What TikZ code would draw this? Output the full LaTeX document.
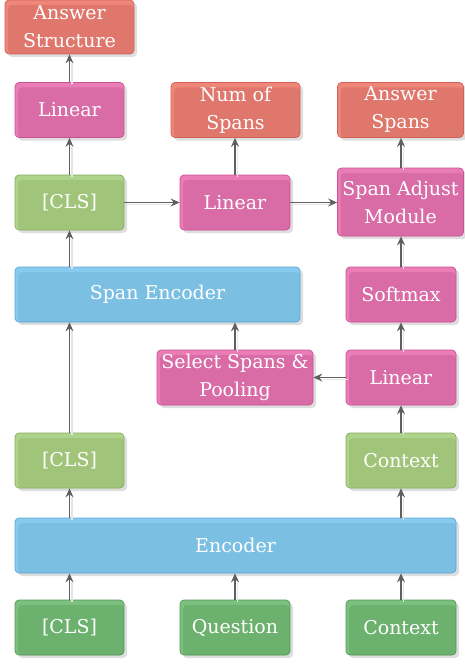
\documentclass[tikz,border=0pt]{standalone}
\usepackage{fontspec}
\setmainfont{DejaVu Serif}
\usetikzlibrary{shadows,arrows.meta}
\definecolor{pinkM}{RGB}{217,108,166}
\definecolor{pinkL}{RGB}{234,124,182}
\definecolor{pinkB}{RGB}{200,82,146}
\definecolor{salM}{RGB}{223,119,108}
\definecolor{salL}{RGB}{238,134,122}
\definecolor{salB}{RGB}{208,96,88}
\definecolor{lgM}{RGB}{160,197,122}
\definecolor{lgL}{RGB}{174,211,138}
\definecolor{lgB}{RGB}{134,172,96}
\definecolor{dgM}{RGB}{108,177,110}
\definecolor{dgL}{RGB}{124,192,126}
\definecolor{dgB}{RGB}{84,150,88}
\definecolor{blM}{RGB}{123,191,226}
\definecolor{blL}{RGB}{136,203,240}
\definecolor{blB}{RGB}{94,166,208}
\definecolor{arrC}{RGB}{95,95,95}
\newcommand{\myfnt}{\fontsize{19}{28}\selectfont}
\newcommand{\myarrow}[1]{\draw[arrshadow] #1; \draw[arr] #1;}
\tikzset{
  base/.style={rounded corners=4pt, line width=0.7pt, text=white, font=\myfnt,
    align=center, inner sep=0pt, minimum height=55pt,
    drop shadow={shadow xshift=3pt, shadow yshift=-3pt, fill=black!13, opacity=1}},
  colbox/.style n args={3}{base, draw=#3, fill=#2,
    path picture={\fill[#1, rounded corners=4pt]
      ([xshift=3pt,yshift=-5pt]path picture bounding box.north west) rectangle
      (path picture bounding box.south east);}},
  pinkbox/.style={colbox={pinkM}{pinkL}{pinkB}},
  salbox/.style={colbox={salM}{salL}{salB}},
  lgbox/.style={colbox={lgM}{lgL}{lgB}},
  dgbox/.style={colbox={dgM}{dgL}{dgB}},
  blbox/.style={colbox={blM}{blL}{blB}},
  arr/.style={draw=arrC, line width=1.1pt, -{Stealth[length=9pt,width=8pt,inset=3pt]}},
  arrshadow/.style={draw=black!10, line width=1.8pt, shorten >=7pt,
    transform canvas={shift={(2.5pt,-2pt)}}},
}
\begin{document}
\begin{tikzpicture}[x=1pt,y=-1pt]
\useasboundingbox (0,0) rectangle (464,666);
% nodes
\node[salbox, minimum width=129pt, minimum height=54pt] (AS) at (69.5,27) {Answer\\Structure};
\node[pinkbox, minimum width=109pt] (LinL) at (69.5,110) {Linear};
\node[lgbox, minimum width=109pt] (CLS1) at (69.5,202.5) {[CLS]};
\node[salbox, minimum width=129pt] (NS) at (235.5,110) {Num of\\Spans};
\node[pinkbox, minimum width=110pt] (LinM) at (235,202.5) {Linear};
\node[salbox, minimum width=126pt] (ASp) at (400.5,110) {Answer\\Spans};
\node[pinkbox, minimum width=126pt, minimum height=68pt] (SAM) at (400.5,202) {Span Adjust\\Module};
\node[blbox, minimum width=285pt] (SE) at (157.5,294.5) {Span Encoder};
\node[pinkbox, minimum width=110pt] (SM) at (401,294.5) {Softmax};
\node[pinkbox, minimum width=156pt] (SSP) at (235,377.5) {Select Spans \&\\Pooling};
\node[pinkbox, minimum width=110pt] (LinR) at (401,377.5) {Linear};
\node[lgbox, minimum width=109pt] (CLS2) at (69.5,460.5) {[CLS]};
\node[lgbox, minimum width=110pt] (Ctx2) at (401,460.5) {Context};
\node[blbox, minimum width=441pt] (Enc) at (235.5,545.5) {Encoder};
\node[dgbox, minimum width=109pt] (CLS3) at (69.5,627.5) {[CLS]};
\node[dgbox, minimum width=110pt] (Q) at (235,627.5) {Question};
\node[dgbox, minimum width=110pt] (Ctx3) at (401,627.5) {Context};
% connectors
\myarrow{(CLS3.north) -- (CLS3.north |- Enc.south)}
\myarrow{(Q.north) -- (Q.north |- Enc.south)}
\myarrow{(Ctx3.north) -- (Ctx3.north |- Enc.south)}
\myarrow{(CLS2.south |- Enc.north) -- (CLS2.south)}
\myarrow{(Ctx2.south |- Enc.north) -- (Ctx2.south)}
\myarrow{(CLS2.north) -- (CLS2.north |- SE.south)}
\myarrow{(Ctx2.north) -- (LinR.south)}
\myarrow{(LinR.north) -- (SM.south)}
\myarrow{(LinR.west) -- (SSP.east)}
\myarrow{(SSP.north) -- (SSP.north |- SE.south)}
\myarrow{(SM.north) -- (SM.north |- SAM.south)}
\myarrow{(CLS1.south |- SE.north) -- (CLS1.south)}
\myarrow{(CLS1.east) -- (LinM.west)}
\myarrow{(LinM.east) -- (SAM.west |- LinM.east)}
\myarrow{(LinM.north) -- (LinM.north |- NS.south)}
\myarrow{(SM.north |- SAM.north) -- (SM.north |- ASp.south)}
\myarrow{(CLS1.north) -- (LinL.south)}
\myarrow{(LinL.north) -- (AS.south)}
\end{tikzpicture}
\end{document}
